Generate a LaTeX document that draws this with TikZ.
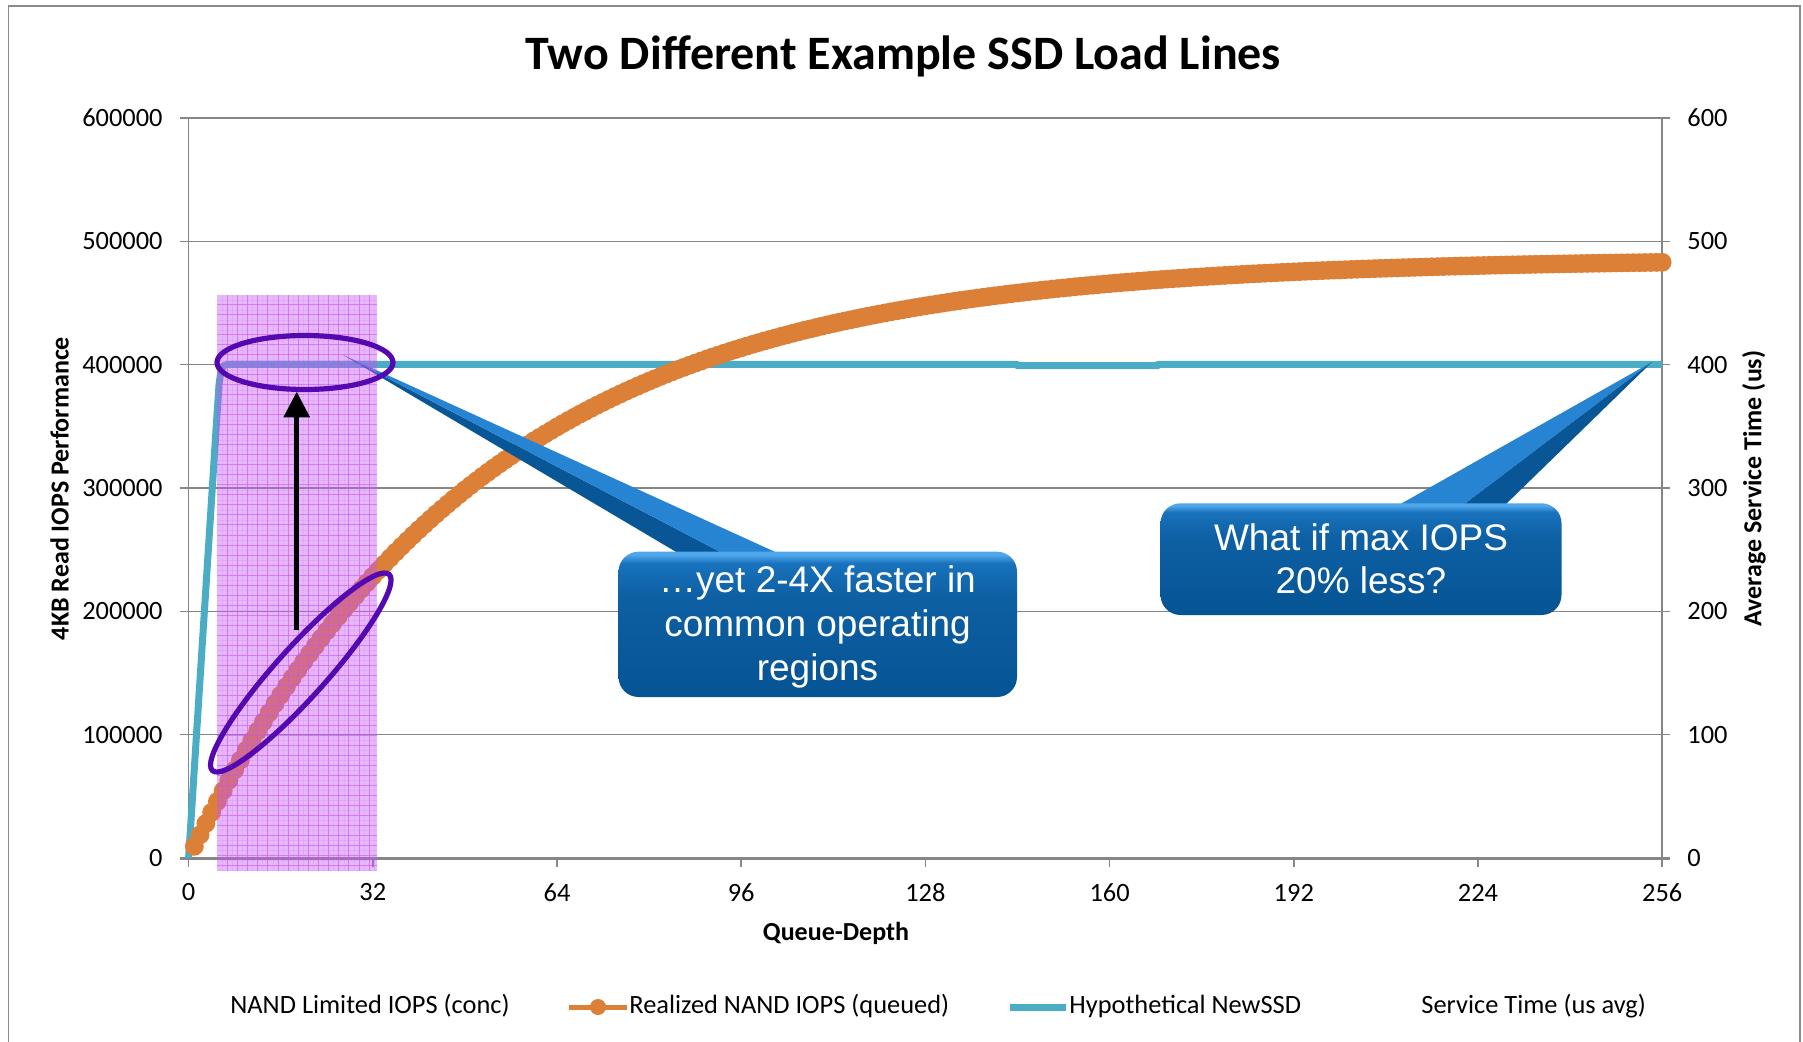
\documentclass[tikz,border=0pt]{standalone}
\usepackage{fontspec}
\setmainfont{Carlito}
\newfontfamily\arialf{Liberation Sans}
\usetikzlibrary{arrows.meta}
\definecolor{gridgray}{RGB}{134,134,134}
\definecolor{framegray}{RGB}{140,140,140}
\definecolor{bluec}{RGB}{75,172,198}
\definecolor{orangec}{RGB}{220,128,56}
\definecolor{pinkc}{RGB}{198,84,243}
\definecolor{ringpurple}{RGB}{84,8,176}
\definecolor{cbdark}{RGB}{5,84,148}
\definecolor{cbmid}{RGB}{14,96,164}
\definecolor{cbmidb}{RGB}{24,114,188}
\definecolor{cblight}{RGB}{80,168,236}
\definecolor{wedgelight}{RGB}{38,132,210}
\definecolor{wedgedark}{RGB}{8,86,150}
\pgfdeclareverticalshading{callshade}{100bp}{color(0bp)=(cbdark); color(25bp)=(cbdark); color(60bp)=(cbmid); color(71bp)=(cbmidb); color(74bp)=(cblight); color(100bp)=(cblight)}
\begin{document}
\begin{tikzpicture}[x=0.5pt,y=-0.5pt,
  gridline/.style={draw=gridgray, line width=0.75pt},
  ticklab/.style={font=\fontsize{13.2}{15}\selectfont, inner sep=0pt},
  axtitle/.style={font=\fontsize{13}{15}\selectfont\bfseries, inner sep=0pt},
  callbox/.style={shading=callshade, rounded corners=10pt, inner sep=0pt},
  calltext/.style={font=\arialf\fontsize{18.5}{22}\selectfont, text=white, inner sep=0pt},
  ringmark/.style={draw=ringpurple, line width=2.6pt},
  pinkgrid/.style={draw=pinkc, opacity=0.6, line width=0.5pt},
  pinkfine/.style={draw=pinkc, opacity=0.12, line width=0.4pt}]
\useasboundingbox (0,0) rectangle (1803,1042);
\fill[white] (0,0) rectangle (1803,1042);
% chart frame
\draw[framegray, line width=0.9pt] (8.4,1042) -- (8.4,6) -- (1800,6) -- (1800,1042);
% horizontal gridlines and y tick labels
\foreach \v in {1,...,6} {
  \draw[gridline] (180,{858-123.33*\v}) -- (1670,{858-123.33*\v});
}
\foreach \v in {0,...,6} {
  \node[ticklab, anchor=east] (yl\v) at (163,{858-123.33*\v}) {\the\numexpr\v*100000\relax};
  \node[ticklab, anchor=west] (yr\v) at (1687,{858-123.33*\v}) {\the\numexpr\v*100\relax};
}
% axes
\draw[gridline] (188.6,118) -- (188.6,866.7);
\draw[gridline] (1662,118) -- (1662,858);
\draw[gridgray, line width=1.5pt] (180,858) -- (1670,858);
\foreach \k in {0,...,8} {
  \draw[gridline] ({188.6+184.2*\k},858) -- ({188.6+184.2*\k},866.7);
  \node[ticklab] (xl\k) at ({188.6+184.2*\k},892.5) {\the\numexpr\k*32\relax};
}
% hypothetical NewSSD line
\draw[bluec, line width=3.5pt, line join=round] (188.6,858) -- (216,430) -- (219,385)
  .. controls (221,369) and (222,364.3) .. (228,364.3) -- (1017,364.3) -- (1017,365.6)
  -- (1158,365.6) -- (1158,364.3) -- (1662,364.3);
% realized NAND IOPS (queued)
\foreach \q in {1,...,256} {
  \fill[orangec] ({188.6+5.756*\q},{858-599.4*(1-exp(-\q/50.4))}) circle[radius=9.4];
}
% callout 1
\coordinate (t1) at (343.3,355);
\coordinate (b1a) at (683,556);
\coordinate (b1m) at (728,556);
\coordinate (b1b) at (784,556);
\fill[wedgedark] (t1) -- (b1a) -- (b1m) -- cycle;
\fill[wedgelight] (t1) -- (b1m) -- (b1b) -- cycle;
\node[callbox, minimum width=199.25pt, minimum height=72.65pt] (cb1) at (817.75,624.35) {};
\node[calltext, anchor=base] (ct1a) at (817.5,592) {…yet 2-4X faster in};
\node[calltext, anchor=base] (ct1b) at (817.5,636) {common operating};
\node[calltext, anchor=base] (ct1c) at (817.5,680) {regions};
% callout 2
\coordinate (t2) at (1652,362);
\coordinate (b2a) at (1397,506);
\coordinate (b2m) at (1462,506);
\coordinate (b2b) at (1504,506);
\fill[wedgelight] (t2) -- (b2a) -- (b2m) -- cycle;
\fill[wedgedark] (t2) -- (b2m) -- (b2b) -- cycle;
\node[callbox, minimum width=200.5pt, minimum height=55.85pt] (cb2) at (1361,559.15) {};
\node[calltext, anchor=base] (ct2a) at (1361,550) {What if max IOPS};
\node[calltext, anchor=base] (ct2b) at (1361,593.3) {20\% less?};
% highlighted region
\fill[pinkc, fill opacity=0.42] (217.3,295) rectangle (376.7,870.7);
\foreach \k in {1,...,15} {
  \draw[pinkgrid] ({217.3+10.13*\k},295) -- ({217.3+10.13*\k},870.7);
}
\foreach \k in {0,...,15} {
  \draw[pinkfine] ({222.36+10.13*\k},295) -- ({222.36+10.13*\k},870.7);
}
\foreach \k in {1,...,57} {
  \draw[pinkgrid] (217.3,{295+10*\k}) -- (376.7,{295+10*\k});
}
\foreach \k in {0,...,57} {
  \draw[pinkfine] (217.3,{300+10*\k}) -- (376.7,{300+10*\k});
}
% rings
\draw[ringmark] (305,362.5) ellipse [x radius=88, y radius=27];
\draw[ringmark, rotate around={48:(300.8,672.5)}] (300.8,672.5) ellipse [x radius=132, y radius=25];
% arrow
\coordinate (arrS) at (296.7,630);
\coordinate (arrT) at (296.7,391.7);
\draw[black, line width=2.3pt, -{Triangle[length=12.8pt,width=12.7pt]}] (arrS) -- (arrT);
% titles
\node[font=\fontsize{24}{28}\selectfont\bfseries, anchor=base, inner sep=0pt] (title) at (903.3,70) {Two Different Example SSD Load Lines};
\node[axtitle, rotate=90] (ytitle) at (59.5,488.5) {4KB Read IOPS Performance};
\node[axtitle, rotate=90] (y2title) at (1754,488.5) {Average Service Time (us)};
\node[axtitle, anchor=base] (xtitle) at (836,940) {Queue-Depth};
% legend
\node[ticklab, anchor=base west] (lg1) at (230,1013.3) {NAND Limited IOPS (conc)};
\coordinate (lk2a) at (569,1007);
\coordinate (lk2b) at (627,1007);
\draw[orangec, line width=2.5pt] (lk2a) -- (lk2b);
\fill[orangec] (598,1007) circle[radius=8];
\node[ticklab, anchor=base west] (lg2) at (629,1013.3) {Realized NAND IOPS (queued)};
\coordinate (lk3a) at (1010,1007);
\coordinate (lk3b) at (1066,1007);
\draw[bluec, line width=3.5pt] (lk3a) -- (lk3b);
\node[ticklab, anchor=base west] (lg3) at (1069,1013.3) {Hypothetical NewSSD};
\node[ticklab, anchor=base west] (lg4) at (1421,1013.3) {Service Time (us avg)};
\end{tikzpicture}
\end{document}
